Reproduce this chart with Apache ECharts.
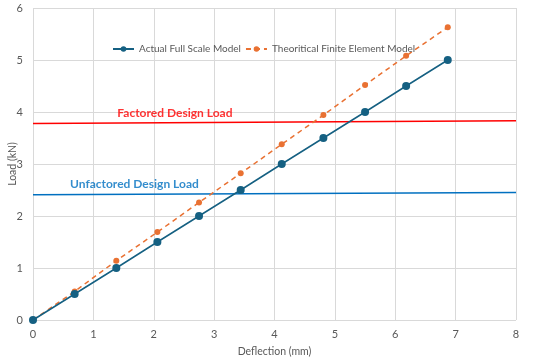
<!DOCTYPE html>
<html><head><meta charset="utf-8">
<script src="https://cdn.jsdelivr.net/npm/echarts@6/dist/echarts.min.js"></script>
<style>html,body{margin:0;padding:0;background:#fff}#c{width:550px;height:361px}</style>
</head><body><div id="c"></div>
<script>
const deflection = [0, 0.69, 1.38, 2.06, 2.75, 3.44, 4.12, 4.81, 5.50, 6.18, 6.87];
const actualLoad = [0, 0.5, 1.0, 1.5, 2.0, 2.5, 3.0, 3.5, 4.0, 4.5, 5.0];
const theoreticalLoad = [0, 0.55, 1.14, 1.69, 2.26, 2.82, 3.38, 3.94, 4.52, 5.08, 5.63];
const factoredLine = [[0, 3.78], [8, 3.83]];
const unfactoredLine = [[0, 2.41], [8, 2.45]];
const factoredLabelPos = [2.35, 3.98];
const unfactoredLabelPos = [1.68, 2.62];

const font = 'Lato, "Open Sans", sans-serif';
const chart = echarts.init(document.getElementById('c'));
chart.setOption({
  animation: false,
  textStyle: {fontFamily: font},
  grid: {left: 33, right: 34, top: 8, bottom: 41, outerBoundsMode: 'none', containLabel: false},
  legend: {
    top: 39, left: 107, itemWidth: 21, itemHeight: 7, itemGap: 4,
    textStyle: {color: '#595959', fontSize: 10, fontFamily: font},
    data: ['Actual Full Scale Model', 'Theoritical Finite Element Model']
  },
  xAxis: {
    type: 'value', min: 0, max: 8, interval: 1,
    name: 'Deflection (mm)', nameLocation: 'middle', nameGap: 26, nameMoveOverlap: false,
    nameTextStyle: {color: '#595959', fontSize: 10.5},
    axisLine: {show: false}, axisTick: {show: false},
    axisLabel: {color: '#595959', fontSize: 11, margin: 9},
    splitLine: {lineStyle: {color: '#d9d9d9', width: 1}}
  },
  yAxis: {
    type: 'value', min: 0, max: 6, interval: 1,
    name: 'Load (kN)', nameLocation: 'middle', nameGap: 15, nameRotate: 90, nameMoveOverlap: false,
    nameTextStyle: {color: '#595959', fontSize: 10.5},
    axisLine: {show: false}, axisTick: {show: false},
    axisLabel: {color: '#595959', fontSize: 11, margin: 10},
    splitLine: {lineStyle: {color: '#d9d9d9', width: 1}}
  },
  series: [
    {
      name: 'Factored Design Load', type: 'line', data: factoredLine,
      symbol: 'none', lineStyle: {color: '#ff0000', width: 1.5}, silent: true, z: 1
    },
    {
      name: 'Unfactored Design Load', type: 'line', data: unfactoredLine,
      symbol: 'none', lineStyle: {color: '#0070c0', width: 1.5}, silent: true, z: 1
    },
    {
      type: 'scatter', symbolSize: 0, silent: true,
      data: [{value: factoredLabelPos, name: 'Factored Design Load'}],
      label: {show: true, position: 'inside', formatter: '{b}', color: '#ff0000', fontWeight: 'bold', fontSize: 12}
    },
    {
      type: 'scatter', symbolSize: 0, silent: true,
      data: [{value: unfactoredLabelPos, name: 'Unfactored Design Load'}],
      label: {show: true, position: 'inside', formatter: '{b}', color: '#0070c0', fontWeight: 'bold', fontSize: 12}
    },
    {
      name: 'Theoritical Finite Element Model', type: 'line',
      data: deflection.map((d, i) => [d, theoreticalLoad[i]]),
      symbol: 'circle', symbolSize: 6,
      itemStyle: {color: '#e97132'},
      lineStyle: {color: '#e97132', width: 1.5, type: [5, 4]}, z: 3
    },
    {
      name: 'Actual Full Scale Model', type: 'line',
      data: deflection.map((d, i) => [d, actualLoad[i]]),
      symbol: 'circle', symbolSize: 8,
      itemStyle: {color: '#156082'},
      lineStyle: {color: '#156082', width: 1.5}, z: 4
    }
  ]
});
</script></body></html>
